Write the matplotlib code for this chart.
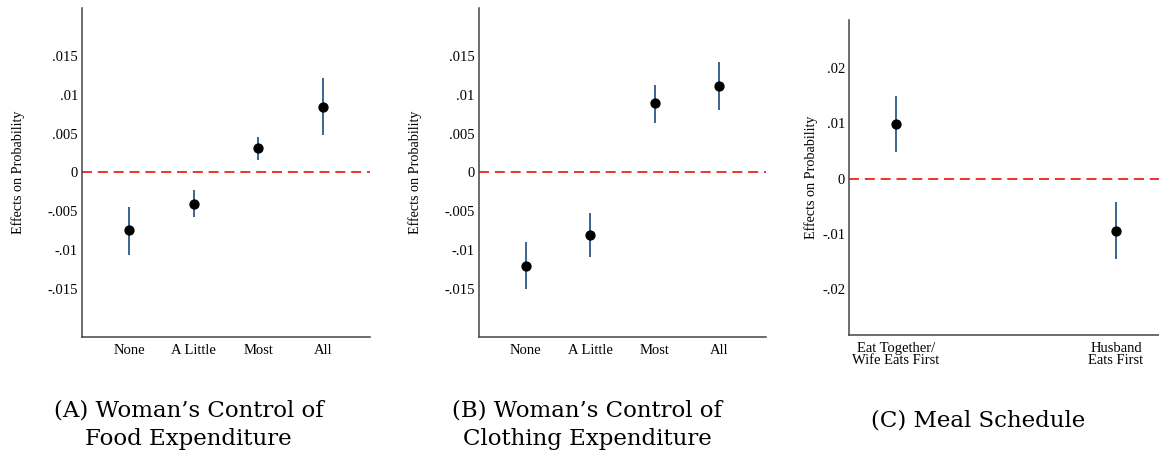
import numpy as np
import matplotlib.pyplot as plt

# point estimates and 95% bounds, read per category
control_cats = ["None", "A Little", "Most", "All"]

food_est = [-0.0074, -0.0040, 0.0031, 0.0085]
food_lo = [-0.0106, -0.0058, 0.0016, 0.0048]
food_hi = [-0.0044, -0.0023, 0.0046, 0.0122]

cloth_est = [-0.0120, -0.0080, 0.0089, 0.0112]
cloth_lo = [-0.0150, -0.0109, 0.0064, 0.0081]
cloth_hi = [-0.0090, -0.0052, 0.0113, 0.0143]

meal_cats = ["Eat Together/\nWife Eats First", "Husband\nEats First"]
meal_est = [0.0099, -0.0094]
meal_lo = [0.0048, -0.0145]
meal_hi = [0.0150, -0.0042]

ab_ticks = [-0.015, -0.01, -0.005, 0, 0.005, 0.01, 0.015]
ab_labels = ["-.015", "-.01", "-.005", "0", ".005", ".01", ".015"]
c_ticks = [-0.02, -0.01, 0, 0.01, 0.02]
c_labels = ["-.02", "-.01", "0", ".01", ".02"]

captions = ["(A) Woman\u2019s Control of\nFood Expenditure",
            "(B) Woman\u2019s Control of\nClothing Expenditure",
            "(C) Meal Schedule"]

SERIF = "Liberation Serif"
CAPTION_FONT = "DejaVu Serif"
BAR = "#3d6390"
SPINE = "#444444"

fig = plt.figure(figsize=(11.59, 4.57), dpi=100)


def coef_panel(rect, cats, est, lo, hi, yticks, ylabels, ylim, xlim, ylab_x):
    ax = fig.add_axes(rect)
    x = np.arange(1, len(cats) + 1)
    est = np.asarray(est)
    err = [est - np.asarray(lo), np.asarray(hi) - est]
    ax.axhline(0, color="#e8120c", lw=1.2, ls=(0, (6, 3.5)), zorder=1)
    ax.errorbar(x, est, yerr=err, fmt="none", ecolor=BAR, elinewidth=1.4,
                capsize=0, zorder=2)
    ax.plot(x, est, "o", color="black", ms=6.4, zorder=3)
    ax.set_xlim(*xlim)
    ax.set_ylim(*ylim)
    ax.set_xticks(x)
    ax.set_xticklabels(cats, fontfamily=SERIF, fontsize=10.5, linespacing=0.95)
    ax.set_yticks(yticks)
    ax.set_yticklabels(ylabels, fontfamily=SERIF, fontsize=10.5)
    ax.tick_params(axis="y", length=0, pad=3)
    ax.tick_params(axis="x", length=0, pad=5)
    for side in ("top", "right"):
        ax.spines[side].set_visible(False)
    for side in ("left", "bottom"):
        ax.spines[side].set_color(SPINE)
        ax.spines[side].set_linewidth(1.1)
    ax.set_ylabel("Effects on Probability", fontfamily=SERIF, fontsize=10.2)
    ax.yaxis.set_label_coords(ylab_x, 0.5)
    return ax


coef_panel([0.0708, 0.2626, 0.2485, 0.7199], control_cats, food_est, food_lo,
           food_hi, ab_ticks, ab_labels, (-0.0212, 0.0212), (0.27, 4.73), -0.198)
coef_panel([0.4133, 0.2626, 0.2474, 0.7199], control_cats, cloth_est, cloth_lo,
           cloth_hi, ab_ticks, ab_labels, (-0.0212, 0.0212), (0.275, 4.725), -0.199)
coef_panel([0.7328, 0.2670, 0.2704, 0.6893], meal_cats, meal_est, meal_lo,
           meal_hi, c_ticks, c_labels, (-0.0283, 0.0287), (0.788, 2.212), -0.099)

# subfigure captions
cap_x = [188.5 / 1159, 587 / 1159, 978 / 1159]
cap_y = [1 - 425 / 457, 1 - 425 / 457, 1 - 420 / 457]
for cx, cy, txt in zip(cap_x, cap_y, captions):
    fig.text(cx, cy, txt, ha="center", va="center", fontfamily=CAPTION_FONT,
             fontsize=16.5, linespacing=1.38)

fig.savefig("out.png", dpi=100)
